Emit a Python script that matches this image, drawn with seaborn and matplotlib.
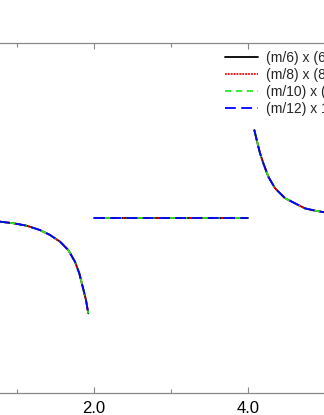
import numpy as np
import pandas as pd
import matplotlib
matplotlib.use("Agg")
import matplotlib.pyplot as plt
from matplotlib.ticker import FixedLocator, FormatStrFormatter
import seaborn as sns

# ---- data ----
series_labels = ["(m/6) x (6/m)", "(m/8) x (8/m)", "(m/10) x (10/m)", "(m/12) x 12/m"]
series_colors = ["black", "red", "#22ee22", "blue"]

x_left = [0.60, 0.779, 0.952, 1.126, 1.299, 1.429, 1.558, 1.666, 1.753, 1.809, 1.853, 1.896, 1.926]
y_left = [-0.012, -0.021, -0.030, -0.044, -0.069, -0.097, -0.135, -0.183, -0.250, -0.316, -0.393, -0.469, -0.545]

x_mid = [2.0, 4.0]
y_mid = [0.0, 0.0]

x_right = [4.082, 4.113, 4.156, 4.199, 4.264, 4.351, 4.481, 4.610, 4.740, 4.870, 4.987, 5.20]
y_right = [0.503, 0.446, 0.370, 0.313, 0.236, 0.170, 0.113, 0.084, 0.055, 0.042, 0.033, 0.022]

major_ticks = [2.0, 4.0]
minor_ticks = [1.0, 3.0, 5.0]

# ---- style ----
sns.set_style("ticks")
plt.rcParams['font.family'] = ['Liberation Sans', 'DejaVu Sans']

fig = plt.figure(figsize=(3.24, 4.15), dpi=100)
# axes extends beyond the figure (reference is a crop of a larger chart)
ax = fig.add_axes([-60 / 324, 22 / 415, 462 / 324, 350 / 415])

dash_styles = [(None, None), (1, 0.6), (3.5, 2.5), (6, 3)]

rows = []
for s in series_labels:
    for seg, (xs, ys) in enumerate([(x_left, y_left), (x_mid, y_mid), (x_right, y_right)]):
        for xv, yv in zip(xs, ys):
            rows.append({"series": s, "seg": seg, "x": xv, "y": yv})
df = pd.DataFrame(rows)

handles = []
for s, c, d in zip(series_labels, series_colors, dash_styles):
    sub = df[df.series == s]
    for seg in sorted(sub.seg.unique()):
        part = sub[sub.seg == seg]
        sns.lineplot(data=part, x="x", y="y", ax=ax, color=c, lw=1.3,
                     estimator=None, sort=False, legend=False)
        ln = ax.get_lines()[-1]
        if d[0] is not None:
            ln.set_dashes(d)
    handles.append(ln)

ax.set_xlim(0, 6)
ax.set_ylim(-1, 1)
ax.set_xlabel("")
ax.set_ylabel("")
ax.xaxis.set_major_locator(FixedLocator(major_ticks))
ax.xaxis.set_minor_locator(FixedLocator(minor_ticks))
ax.xaxis.set_major_formatter(FormatStrFormatter("%.1f"))
ax.set_yticks([])
ax.tick_params(axis="x", which="both", direction="in", top=True, bottom=True,
               color="#888888", labelsize=12, labelcolor="black", pad=5.5)
ax.tick_params(axis="x", which="major", length=4, width=0.8)
ax.tick_params(axis="x", which="minor", length=3, width=0.8)
for sp in ax.spines.values():
    sp.set_color("#888888")
    sp.set_linewidth(0.9)
    sp.set_visible(True)

leg = ax.legend(handles, series_labels, loc="upper left",
                bbox_to_anchor=(225 / 324, 364 / 415), bbox_transform=fig.transFigure,
                frameon=False, fontsize=10, borderpad=0, borderaxespad=0,
                handlelength=2.4, handletextpad=0.55, labelspacing=0.22)

fig.savefig("out.png", dpi=100)
